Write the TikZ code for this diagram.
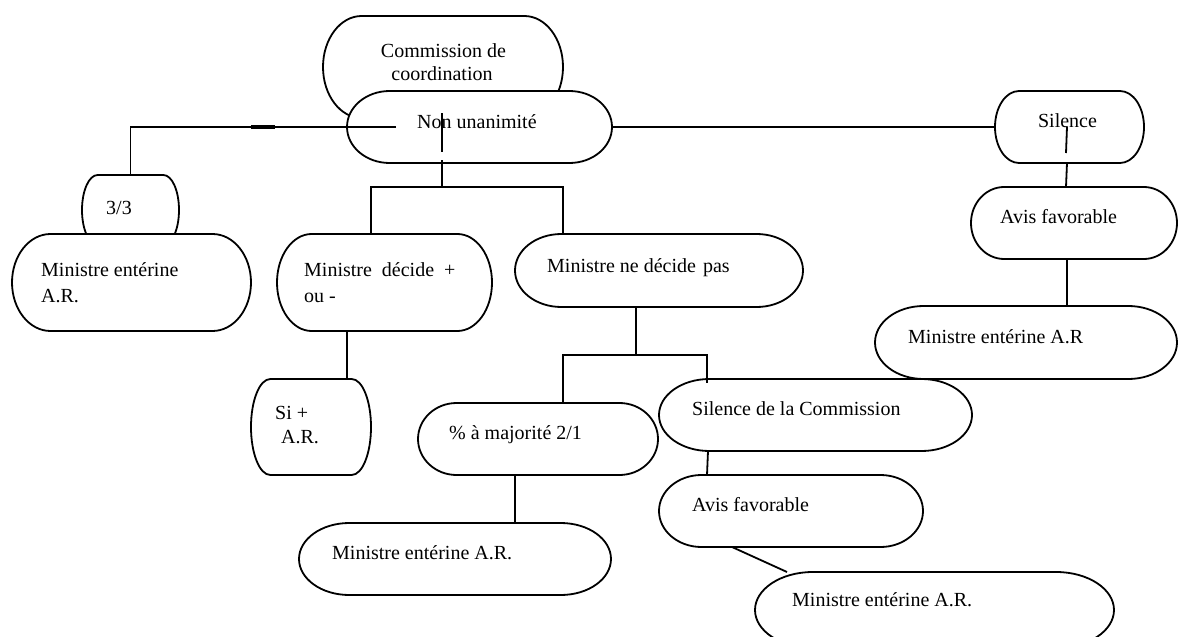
\documentclass[tikz,border=0pt]{standalone}
\usepackage{fontspec}
\setmainfont{Liberation Serif}
\tikzset{
  boxline/.style={line width=1.8pt, fill=white, line join=round},
  shapebox/.style={draw=none, rectangle, inner sep=0pt, outer sep=0pt},
  link/.style={line width=1.8pt},
  thicklink/.style={line width=3.8pt},
  txt/.style={inner sep=0pt, font=\fontsize{20}{23}\selectfont, anchor=base west},
  ctxt/.style={txt, anchor=base},
}
% terminator-like box: #2 name, (#3,#4) top-left, (#5,#6) bottom-right
\newcommand\tbox[6][]{%
  \pgfmathsetmacro\ta{0.161*(#5-#3)}%
  \pgfmathsetmacro\tb{(#6-#4)/2}%
  \pgfmathsetmacro\xa{#3+\ta}\pgfmathsetmacro\xb{#5-\ta}%
  \pgfmathsetmacro\yc{(#4+#6)/2}%
  \pgfmathsetmacro\xac{\xa-0.5523*\ta}\pgfmathsetmacro\xbc{\xb+0.5523*\ta}%
  \pgfmathsetmacro\yu{\yc-0.5523*\tb}\pgfmathsetmacro\yd{\yc+0.5523*\tb}%
  \draw[boxline,#1] (\xa,#4) -- (\xb,#4)
     .. controls (\xbc,#4) and (#5,\yu) .. (#5,\yc)
     .. controls (#5,\yd) and (\xbc,#6) .. (\xb,#6)
     -- (\xa,#6)
     .. controls (\xac,#6) and (#3,\yd) .. (#3,\yc)
     .. controls (#3,\yu) and (\xac,#4) .. (\xa,#4) -- cycle;
  \node[shapebox, minimum width={(#5-#3)*1pt}, minimum height={(#6-#4)*1pt}]
     (#2) at ({(#3+#5)/2},{(#4+#6)/2}) {};
}
\begin{document}
\begin{tikzpicture}[x=1pt,y=-1pt]
\useasboundingbox (0,0) rectangle (1179,637);
\clip (0,0) rectangle (1179,637);

% boxes
\tbox{com}{323}{16}{563}{118}
\tbox{nu}{347}{91}{612}{163}
\tbox{sil}{995}{91}{1144}{163}
\tbox{avr}{971}{187}{1177}{259}
\tbox{mer}{875}{306}{1177}{379}
\tbox{tt}{82}{175}{179}{245}
\tbox{mel}{12}{234}{251}{331}
\tbox{md}{277}{234}{492}{331}
\tbox{mnd}{515}{234}{803}{307}
\tbox{si}{251}{379}{371}{475}
\tbox{maj}{418}{403}{658}{475}
\tbox{sdc}{659}{379}{972}{451}
\tbox{avl}{659}{475}{923}{547}
\tbox{melb}{299}{523}{611}{595}
\tbox{mebr}{755}{572}{1114}{648}

% texts
\node[ctxt] (t-com1) at (443.5,57) {Commission de};
\node[ctxt] (t-com2) at (442,80) {coordination};
\node[txt] (t-nu) at (417,128) {Non unanimité};
\node[ctxt] (t-sil) at (1067.5,127) {Silence};
\node[txt] (t-avr) at (1000,223) {Avis favorable};
\node[txt] (t-mer) at (908,343) {Ministre entérine A.R};
\node[txt] (t-tt) at (106,214) {3/3};
\node[txt] (t-mel1) at (41,276) {Ministre entérine};
\node[txt] (t-mel2) at (41,302) {A.R.};
\node[txt] (t-md1) at (304,276) {Ministre\ \ décide\ \ +};
\node[txt] (t-md2) at (304,302) {ou -};
\node[txt] (t-mnd) at (547,272) {Ministre ne décide\kern2pt{} pas};
\node[txt] (t-si1) at (275,419) {Si +};
\node[txt] (t-si2) at (281,443) {A.R.};
\node[txt] (t-maj) at (449,439) {\% à majorité 2/1};
\node[txt] (t-sdc) at (692,415) {Silence de la Commission};
\node[txt] (t-avl) at (692,511) {Avis favorable};
\node[txt] (t-melb) at (332,559) {Ministre entérine A.R.};
\node[txt] (t-mebr) at (792,606) {Ministre entérine A.R.};

% connectors
\coordinate (k1) at (251,127);
\coordinate (k2) at (275,127);
\coordinate (bar1) at (442,187);
\coordinate (bar2) at (636,355);

\draw[link] ([xshift=-83.5pt]nu.center) -| (tt.north);
\draw[thicklink] (k1) -- (k2);
\draw[link] ([xshift=-37.5pt,yshift=14pt]nu.center) -- ([xshift=-37.5pt,yshift=-25pt]nu.center);
\draw[link] ([xshift=-37.5pt,yshift=3pt]nu.south) -- (bar1);
\draw[link] ([xshift=-13.5pt]md.north) |- (bar1) -| ([xshift=-96pt]mnd.north);
\draw[link] (nu.east) -- (sil.west);
\draw[link] ([xshift=-2.5pt]sil.center) -- ([xshift=-3.5pt,yshift=-26pt]sil.center);
\draw[link] ([xshift=-2.5pt]sil.south) -- ([xshift=-8pt]avr.north);
\draw[link] ([xshift=-7pt]avr.south) -- ([xshift=-7pt]avr.south |- mer.north);
\draw[link] ([xshift=-37.5pt]md.south) -- ([xshift=-37.5pt]md.south |- si.north);
\draw[link] ([xshift=-23pt]mnd.south) -- (bar2);
\draw[link] ([xshift=25pt]maj.north) |- (bar2) -| ([xshift=-108.5pt,yshift=-4pt]sdc.north);
\draw[link] ([xshift=-23pt]maj.south) -- ([xshift=-23pt]maj.south |- melb.north);
\draw[link] ([xshift=-107.5pt]sdc.south) -- ([xshift=-84pt]avl.north);
\draw[link] ([xshift=-59pt]avl.south) -- ([xshift=-147.5pt]mebr.north);
\end{tikzpicture}
\end{document}
